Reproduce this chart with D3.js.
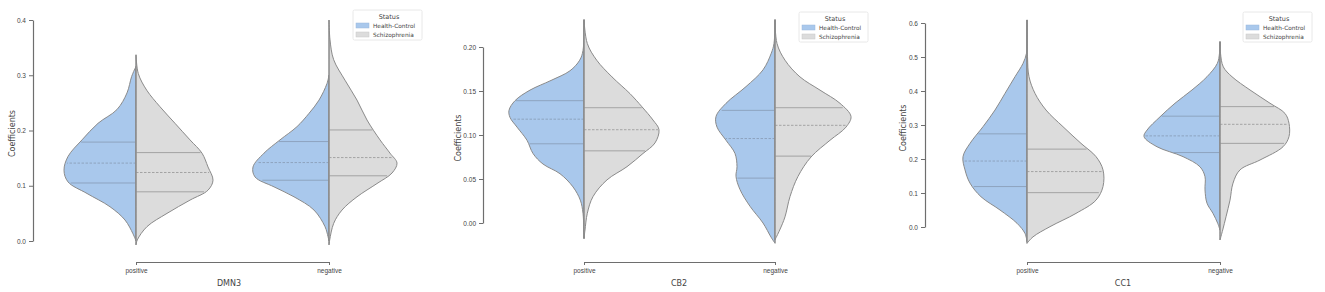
<!DOCTYPE html>
<html>
<head>
<meta charset="utf-8">
<script src="https://cdn.jsdelivr.net/npm/d3@7"></script>
<style>
  html, body { margin: 0; padding: 0; background: #fff; }
  svg { display: block; font-family: "DejaVu Sans", "Liberation Sans", sans-serif; }
</style>
</head>
<body>
<svg id="chart" width="1325" height="292"></svg>
<script>
// ---------------- DATA ----------------
const categories = ["positive", "negative"];
const groups = ["Health-Control", "Schizophrenia"];
const panelNames = ["DMN3", "CB2", "CC1"];
const yLabel = "Coefficients";
const legendTitle = "Status";

const ticksDMN3 = [0.0, 0.1, 0.2, 0.3, 0.4];
const tickLabelsDMN3 = ["0.0", "0.1", "0.2", "0.3", "0.4"];
const ticksCB2 = [0.00, 0.05, 0.10, 0.15, 0.20];
const tickLabelsCB2 = ["0.00", "0.05", "0.10", "0.15", "0.20"];
const ticksCC1 = [0.0, 0.1, 0.2, 0.3, 0.4, 0.5, 0.6];
const tickLabelsCC1 = ["0.0", "0.1", "0.2", "0.3", "0.4", "0.5", "0.6"];

// density profiles: [coefficient value, kernel density]
const dmn3PosHC = [[0.000,0],[0.013,0.3],[0.038,1.1],[0.062,2.6],[0.086,4.9],[0.107,6.8],[0.128,7.2],[0.153,6.8],[0.183,5.4],[0.213,3.8],[0.238,1.9],[0.268,0.9],[0.298,0.43],[0.316,0]];
const dmn3PosSZ = [[-0.007,0],[0.002,0.13],[0.026,1.1],[0.050,3.1],[0.074,5.4],[0.092,7.2],[0.110,7.7],[0.134,7.2],[0.159,6.6],[0.183,5.4],[0.213,3.9],[0.243,2.4],[0.273,1.07],[0.303,0.23],[0.337,0]];
const dmn3NegHC = [[0.000,0],[0.008,0.1],[0.026,0.4],[0.056,1.5],[0.080,3.5],[0.098,5.5],[0.116,7.4],[0.134,7.6],[0.159,6.5],[0.183,4.9],[0.207,3.2],[0.231,2.0],[0.255,1.0],[0.285,0.2],[0.300,0]];
const dmn3NegSZ = [[-0.007,0],[0.002,0.07],[0.032,0.47],[0.056,1.3],[0.080,2.8],[0.104,4.8],[0.123,6.3],[0.141,6.8],[0.159,6.1],[0.183,5.1],[0.219,3.8],[0.255,2.8],[0.291,1.6],[0.328,0.47],[0.364,0.1],[0.400,0]];

const cb2PosHC = [[-0.018,0],[0.011,0.1],[0.026,0.37],[0.041,1.1],[0.056,2.4],[0.067,4.1],[0.079,5.1],[0.094,5.7],[0.109,6.7],[0.120,7.4],[0.128,7.5],[0.139,6.9],[0.151,5.4],[0.162,3.3],[0.173,1.4],[0.185,0.43],[0.196,0.1],[0.231,0]];
const cb2PosSZ = [[-0.017,0],[-0.008,0.1],[0.011,0.33],[0.030,0.9],[0.049,2.3],[0.064,4.3],[0.079,5.9],[0.091,7.1],[0.106,7.5],[0.117,6.9],[0.132,5.8],[0.147,4.6],[0.166,2.8],[0.185,1.27],[0.204,0.33],[0.231,0]];
const cb2NegHC = [[-0.023,0],[-0.016,0.4],[0.000,1.2],[0.019,2.5],[0.038,3.5],[0.053,3.9],[0.064,3.8],[0.079,4.0],[0.094,4.9],[0.109,5.8],[0.121,5.9],[0.136,4.9],[0.155,2.9],[0.174,1.2],[0.193,0.37],[0.204,0.1],[0.231,0]];
const cb2NegSZ = [[-0.019,0],[-0.008,0.47],[0.007,1.0],[0.030,1.5],[0.053,2.3],[0.075,3.6],[0.094,5.5],[0.109,7.1],[0.121,7.6],[0.136,6.5],[0.151,4.5],[0.166,2.5],[0.185,1.0],[0.204,0.2],[0.231,0]];

const cc1PosHC = [[-0.043,0],[-0.019,0.2],[0.011,1.0],[0.050,2.7],[0.089,4.6],[0.129,5.7],[0.168,6.2],[0.207,6.4],[0.246,5.7],[0.295,4.4],[0.344,3.2],[0.393,2.2],[0.442,1.2],[0.481,0.4],[0.511,0.05],[0.550,0.01],[0.609,0]];
const cc1PosSZ = [[-0.048,0],[-0.029,0.6],[0.001,2.3],[0.040,4.9],[0.079,6.9],[0.119,7.6],[0.168,7.6],[0.207,6.9],[0.246,5.4],[0.295,3.6],[0.344,1.9],[0.393,0.8],[0.442,0.2],[0.501,0.05],[0.609,0]];
const cc1NegHC = [[-0.009,0],[0.011,0.23],[0.040,0.7],[0.070,1.3],[0.109,1.5],[0.148,1.5],[0.177,2.0],[0.207,3.7],[0.236,6.3],[0.266,7.6],[0.285,7.3],[0.324,6.0],[0.364,4.5],[0.403,2.8],[0.442,1.3],[0.481,0.27],[0.511,0.05],[0.545,0]];
const cc1NegSZ = [[-0.038,0],[-0.009,0.27],[0.030,0.6],[0.079,1.0],[0.129,1.3],[0.168,2.0],[0.197,4.0],[0.236,6.3],[0.266,6.9],[0.305,6.9],[0.334,6.5],[0.364,5.0],[0.403,3.0],[0.442,1.2],[0.471,0.33],[0.511,0.05],[0.545,0]];

// quartiles [Q1, median, Q3]
const dmn3PosHCQ = [0.105, 0.141, 0.179], dmn3PosSZQ = [0.089, 0.124, 0.160];
const dmn3NegHCQ = [0.110, 0.142, 0.180], dmn3NegSZQ = [0.118, 0.151, 0.201];
const cb2PosHCQ = [0.090, 0.118, 0.139], cb2PosSZQ = [0.082, 0.106, 0.131];
const cb2NegHCQ = [0.051, 0.096, 0.128], cb2NegSZQ = [0.076, 0.111, 0.131];
const cc1PosHCQ = [0.119, 0.194, 0.274], cc1PosSZQ = [0.101, 0.163, 0.229];
const cc1NegHCQ = [0.219, 0.268, 0.326], cc1NegSZQ = [0.246, 0.302, 0.354];

// ---------------- LAYOUT / STYLE ----------------
const colors = { "Health-Control": "#a9c8ec", "Schizophrenia": "#dcdcdc" };
const quartColors = { "Health-Control": "#8a9fba", "Schizophrenia": "#9c9c9c" };
const outline = "#8a8a8a";
const axisColor = "#6e6e6e";
const textColor = "#444";

const panels = [
  { name: panelNames[0], ticks: ticksDMN3, labels: tickLabelsDMN3, domain: [0, 0.4], yRange: [241, 20],
    axisX: 33, xRange: [136, 329], labelX: 12, titleX: 229, legend: [353, 10],
    violins: { positive: [[dmn3PosHC, dmn3PosHCQ], [dmn3PosSZ, dmn3PosSZQ]], negative: [[dmn3NegHC, dmn3NegHCQ], [dmn3NegSZ, dmn3NegSZQ]] } },
  { name: panelNames[1], ticks: ticksCB2, labels: tickLabelsCB2, domain: [0, 0.2], yRange: [223, 47],
    axisX: 483, xRange: [584, 775], labelX: 458, titleX: 679, legend: [799, 12],
    violins: { positive: [[cb2PosHC, cb2PosHCQ], [cb2PosSZ, cb2PosSZQ]], negative: [[cb2NegHC, cb2NegHCQ], [cb2NegSZ, cb2NegSZQ]] } },
  { name: panelNames[2], ticks: ticksCC1, labels: tickLabelsCC1, domain: [0, 0.6], yRange: [227, 23],
    axisX: 925, xRange: [1027, 1220], labelX: 903, titleX: 1123, legend: [1243, 12],
    violins: { positive: [[cc1PosHC, cc1PosHCQ], [cc1PosSZ, cc1PosSZQ]], negative: [[cc1NegHC, cc1NegHCQ], [cc1NegSZ, cc1NegSZQ]] } }
];

const svg = d3.select("#chart");
svg.append("rect").attr("width", 1325).attr("height", 292).attr("fill", "#fff");

const wScale = d3.scaleLinear().domain([0, 7.7]).range([0, 77]);
const bracketY = 262;

panels.forEach(p => {
  const g = svg.append("g");
  const y = d3.scaleLinear().domain(p.domain).range(p.yRange);
  const x = d3.scalePoint().domain(categories).range(p.xRange);

  // violins
  categories.forEach(cat => {
    const cx = x(cat);
    p.violins[cat].forEach(([profile, q], gi) => {
      const grp = groups[gi];
      const sign = gi === 0 ? -1 : 1;
      const area = d3.area()
        .y(d => y(d[0]))
        .x0(cx)
        .x1(d => cx + sign * wScale(d[1]))
        .curve(d3.curveCatmullRom.alpha(0.5));
      g.append("path")
        .attr("d", area(profile))
        .attr("fill", colors[grp])
        .attr("stroke", outline)
        .attr("stroke-width", 1)
        .attr("stroke-linejoin", "round");
      const dens = d3.scaleLinear().domain(profile.map(d => d[0])).range(profile.map(d => d[1]));
      q.forEach((v, qi) => {
        g.append("line")
          .attr("x1", cx).attr("x2", cx + sign * (wScale(dens(v)) - 1))
          .attr("y1", y(v)).attr("y2", y(v))
          .attr("stroke", quartColors[grp])
          .attr("stroke-width", 0.9)
          .attr("stroke-dasharray", qi === 1 ? "2.5,1.5" : null);
      });
      // center line redraw
      g.append("line")
        .attr("x1", cx).attr("x2", cx)
        .attr("y1", y(profile[0][0])).attr("y2", y(profile[profile.length - 1][0]))
        .attr("stroke", outline).attr("stroke-width", 1);
    });
  });

  // y axis
  const yAxis = d3.axisLeft(y).tickValues(p.ticks).tickFormat((d, i) => p.labels[i])
    .tickSize(4).tickSizeOuter(0).tickPadding(3);
  const ya = g.append("g").attr("transform", `translate(${p.axisX},0)`).call(yAxis);
  ya.select(".domain").attr("stroke", axisColor).attr("stroke-width", 1.2);
  ya.selectAll(".tick line").attr("stroke", axisColor).attr("stroke-width", 1);
  ya.selectAll(".tick text").attr("fill", textColor).attr("font-size", 6.5);

  g.append("text")
    .attr("transform", `translate(${p.labelX},${(p.yRange[0] + p.yRange[1]) / 2 + 3}) rotate(-90)`)
    .attr("text-anchor", "middle").attr("font-size", 8).attr("fill", textColor)
    .attr("dy", "0.35em")
    .text(yLabel);

  // bottom axis bracket
  const xAxis = d3.axisBottom(x).tickSize(3).tickSizeOuter(0).tickPadding(3);
  const xa = g.append("g").attr("transform", `translate(0,${bracketY})`).call(xAxis);
  xa.select(".domain").attr("stroke", axisColor).attr("stroke-width", 1.2);
  xa.selectAll(".tick line").attr("stroke", axisColor).attr("stroke-width", 1);
  xa.selectAll(".tick text").attr("fill", textColor).attr("font-size", 6.5);

  g.append("text")
    .attr("x", p.titleX).attr("y", 283)
    .attr("text-anchor", "middle").attr("font-size", 8).attr("fill", textColor)
    .attr("dy", "0.35em")
    .text(p.name);

  // legend
  const [lx, ly] = p.legend;
  const lg = g.append("g").attr("transform", `translate(${lx},${ly})`);
  lg.append("rect").attr("width", 69).attr("height", 30).attr("rx", 1.5)
    .attr("fill", "#fff").attr("stroke", "#e2e2e2").attr("stroke-width", 0.8);
  lg.append("text").attr("x", 36).attr("y", 6.5).attr("dy", "0.35em")
    .attr("text-anchor", "middle").attr("font-size", 6.5).attr("fill", textColor).text(legendTitle);
  groups.forEach((grp, i) => {
    lg.append("rect").attr("x", 3).attr("y", 13 + i * 9).attr("width", 13).attr("height", 5)
      .attr("fill", colors[grp]).attr("stroke", i === 0 ? "#9ab8dc" : "#c8c8c8").attr("stroke-width", 0.5);
    lg.append("text").attr("x", 20).attr("y", 15.5 + i * 9).attr("dy", "0.35em")
      .attr("font-size", 5.8).attr("fill", textColor).text(grp);
  });
});
</script>
</body>
</html>
